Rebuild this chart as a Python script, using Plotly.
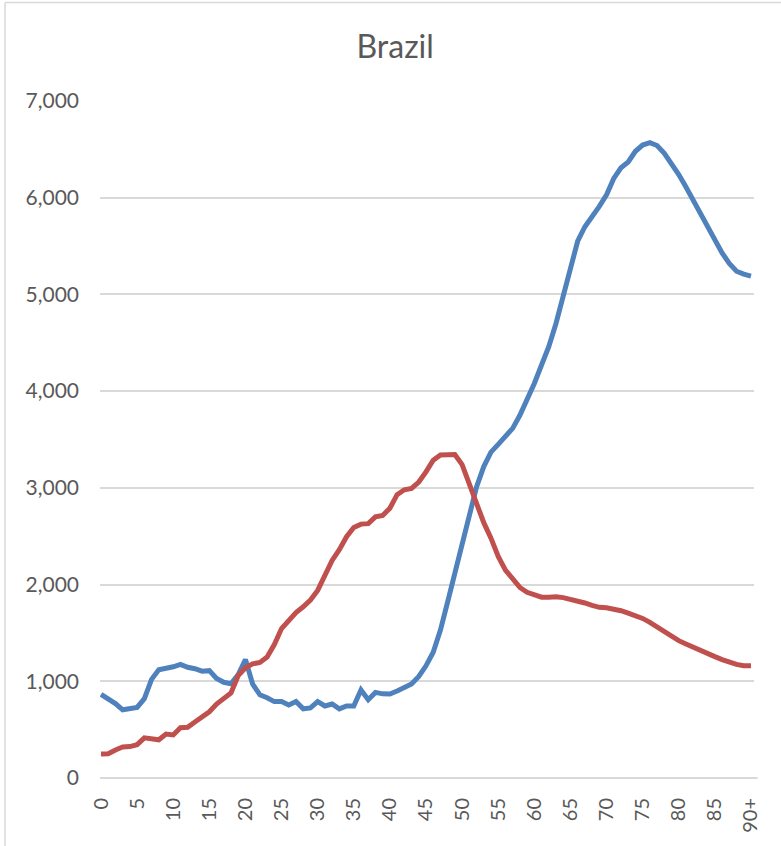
import plotly.graph_objects as go

categories = [str(i) for i in range(90)] + ["90+"]

blue_values = [865, 820, 770, 705, 715, 730, 820, 1020, 1120, 1130,
               1150, 1175, 1145, 1130, 1105, 1110, 1030, 990, 975, 1070,
               1225, 970, 860, 830, 790, 790, 755, 790, 715, 725,
               790, 745, 765, 715, 745, 745, 910, 810, 885, 870,
               868, 900, 935, 972, 1050, 1160, 1300, 1530, 1820, 2120,
               2450, 2750, 3010, 3220, 3370, 3450, 3530, 3615, 3750, 3910,
               4080, 4270, 4460, 4700, 5000, 5300, 5550, 5700, 5800, 5910,
               6030, 6200, 6310, 6370, 6480, 6545, 6570, 6540, 6460, 6360,
               6240, 6110, 5975, 5840, 5700, 5560, 5430, 5320, 5240, 5210,
               5190]

red_values = [248, 250, 290, 320, 325, 345, 415, 400, 395, 455,
              445, 520, 525, 580, 630, 685, 765, 815, 880, 1060,
              1140, 1180, 1195, 1250, 1380, 1545, 1630, 1710, 1770, 1840,
              1940, 2090, 2250, 2360, 2495, 2590, 2625, 2630, 2700, 2715,
              2790, 2930, 2980, 2995, 3060, 3165, 3285, 3340, 3345, 3345,
              3240, 3030, 2830, 2640, 2480, 2290, 2150, 2050, 1970, 1920,
              1890, 1870, 1870, 1875, 1865, 1850, 1830, 1810, 1785, 1765,
              1760, 1750, 1730, 1705, 1680, 1650, 1610, 1560, 1510, 1460,
              1420, 1385, 1350, 1320, 1285, 1255, 1225, 1195, 1175, 1160,
              1160]

x_tick_labels = [categories[i] for i in range(0, 91, 5)]
y_tick_values = [0, 1000, 2000, 3000, 4000, 5000, 6000, 7000]

FONT = "Lato"
TXT = "#595959"

fig = go.Figure()
fig.add_trace(go.Scatter(x=categories, y=blue_values, mode="lines",
                         name="Series 1", line=dict(color="#4F81BD", width=5)))
fig.add_trace(go.Scatter(x=categories, y=red_values, mode="lines",
                         name="Series 2", line=dict(color="#C0504D", width=5)))

L, R, T, B = 100, 27, 101, 68
W, H = 781, 846
pw = W - L - R
ph = H - T - B

bx0 = (5 - L) / pw
bx1 = (W + 20 - L) / pw
by0 = -(H + 20 - T - ph) / ph
by1 = 1 + (T - 2.5) / ph

fig.update_layout(
    width=W, height=H,
    margin=dict(l=L, r=R, t=T, b=B),
    paper_bgcolor="white", plot_bgcolor="white",
    showlegend=False,
    title=dict(text="Brazil", x=0.506, xanchor="center", y=1 - 47 / H,
               yanchor="middle", font=dict(family=FONT, size=32, color=TXT)),
    xaxis=dict(type="category", range=[-0.14, 90.42],
               tickmode="array", tickvals=x_tick_labels, ticktext=x_tick_labels,
               tickangle=-90, showgrid=False, showline=False, zeroline=False,
               ticks="", ticklabelstandoff=15,
               tickfont=dict(family=FONT, size=20, color=TXT)),
    yaxis=dict(range=[0, 7000], tickvals=y_tick_values, tickformat=",d",
               showgrid=True, gridcolor="#D9D9D9", gridwidth=2,
               zeroline=False, showline=False, ticks="", ticklabelstandoff=20,
               tickfont=dict(family=FONT, size=21, color=TXT)),
    shapes=[
        dict(type="line", xref="paper", yref="paper", layer="below",
             x0=0, x1=1.0055, y0=0, y1=0, line=dict(color="#D9D9D9", width=2)),
        dict(type="line", xref="paper", yref="paper", layer="below",
             x0=bx0, x1=bx0, y0=by0, y1=by1,
             line=dict(color="#D9D9D9", width=1.5)),
        dict(type="line", xref="paper", yref="paper", layer="below",
             x0=bx0, x1=bx1, y0=by1, y1=by1,
             line=dict(color="#D9D9D9", width=1.5)),
    ],
)

fig.write_html("out.html", config={"displayModeBar": False},
               post_script="document.body.style.margin='0';document.body.style.overflow='hidden';")
